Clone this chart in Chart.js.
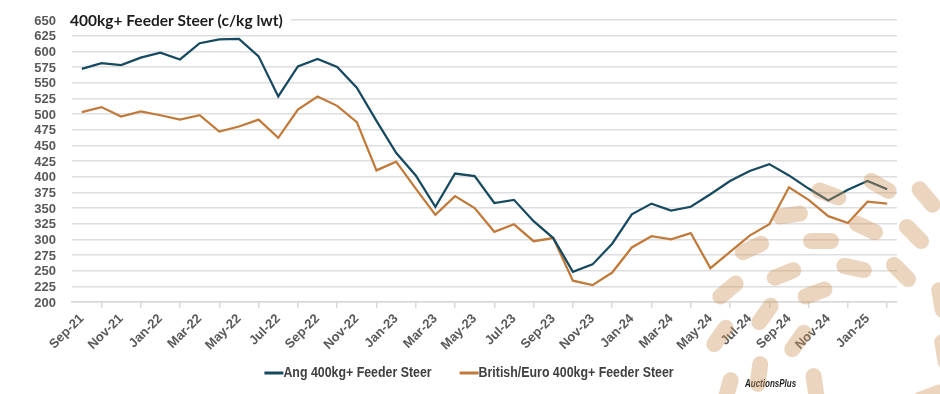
<!DOCTYPE html>
<html>
<head>
<meta charset="utf-8">
<title>400kg+ Feeder Steer</title>
<script src="https://cdn.jsdelivr.net/npm/chart.js@4.4.1/dist/chart.umd.min.js"></script>
<style>
    html, body { margin: 0; padding: 0; background: #fff; }
    #wrap { width: 940px; height: 394px; position: relative; }
</style>
</head>
<body>
<div id="wrap"><canvas id="chart"></canvas></div>
<script>
// Monthly categories, Sep-21 to Feb-25
const months = [
    'Sep-21', 'Oct-21', 'Nov-21', 'Dec-21', 'Jan-22', 'Feb-22', 'Mar-22', 'Apr-22',
    'May-22', 'Jun-22', 'Jul-22', 'Aug-22', 'Sep-22', 'Oct-22', 'Nov-22', 'Dec-22',
    'Jan-23', 'Feb-23', 'Mar-23', 'Apr-23', 'May-23', 'Jun-23', 'Jul-23', 'Aug-23',
    'Sep-23', 'Oct-23', 'Nov-23', 'Dec-23', 'Jan-24', 'Feb-24', 'Mar-24', 'Apr-24',
    'May-24', 'Jun-24', 'Jul-24', 'Aug-24', 'Sep-24', 'Oct-24', 'Nov-24', 'Dec-24',
    'Jan-25', 'Feb-25'
];

// c/kg lwt
const angusSteer = [
    572, 581, 578, 590, 598, 587, 613, 619, 620, 592, 528, 576, 588, 575, 542, 489,
    438, 402, 352, 405, 401, 358, 363, 329, 302, 248, 260, 293, 340, 357, 346, 352,
    372, 393, 409, 420, 402, 381, 362, 379, 393, 380
];
const britEuroSteer = [
    503, 511, 496, 504, 498, 491, 498, 472, 480, 491, 462, 507, 528, 513, 487, 410,
    424, 381, 339, 369, 350, 312, 324, 297, 302, 234, 227, 247, 287, 305, 300, 310,
    254, 280, 306, 324, 383, 363, 337, 326, 360, 357
];

const seriesNames = ['Ang 400kg+ Feeder Steer', 'British/Euro 400kg+ Feeder Steer'];
const seriesColors = ['#174a60', '#c17a3a'];

const yMin = 200;
const yMax = 650;
const yStep = 25;

const chartTitle = '400kg+ Feeder Steer (c/kg lwt)';

// decorative logo dashes in the lower right corner: [cx, cy, angle in degrees]
const watermarkDashes = [
    [880, 186, 30], [926, 197, 50], [829, 194, 20], [790, 215, -8],
    [866, 228, 25], [914, 234, 45], [752, 248, -25], [821, 241, 0],
    [901, 272, 45], [854, 268, 12], [784, 274, -22], [728, 290, -40],
    [815, 293, -20], [941, 300, 80], [765, 314, -55], [720, 336, -55],
    [798, 341, -55], [759, 374, 97], [728, 390, 105], [815, 386, 82],
    [944, 352, 80], [930, 396, -20]
];

const tickFont = "'Liberation Sans', Arial, sans-serif";

// y tick labels drawn by hand so they sit exactly right of the axis gap
const yLabelPlugin = {
    id: 'yLabels',
    afterDraw(chart) {
        const ctx = chart.ctx;
        const scale = chart.scales.y;
        ctx.save();
        ctx.font = 'bold 13px ' + tickFont;
        ctx.fillStyle = '#595959';
        ctx.textAlign = 'right';
        ctx.textBaseline = 'middle';
        scale.ticks.forEach(t => {
            ctx.fillText(String(t.value), chart.chartArea.left - 16, scale.getPixelForValue(t.value) + 1);
        });
        ctx.restore();
    }
};

const titlePlugin = {
    id: 'boxTitle',
    afterDraw(chart) {
        const ctx = chart.ctx;
        ctx.save();
        ctx.font = "bold 16px Lato, 'Liberation Sans', sans-serif";
        const w = ctx.measureText(chartTitle).width * 0.97;
        ctx.fillStyle = '#ffffff';
        ctx.fillRect(64, 8, w + 14, 24);
        ctx.fillStyle = '#1c1c1c';
        ctx.textBaseline = 'middle';
        ctx.translate(70, 21);
        ctx.scale(0.97, 1);
        ctx.fillText(chartTitle, 0, 0);
        ctx.restore();
    }
};

function condensedText(ctx, text, x, y, squeeze) {
    ctx.save();
    ctx.translate(x, y);
    ctx.scale(squeeze, 1);
    ctx.fillText(text, 0, 0);
    ctx.restore();
    return ctx.measureText(text).width * squeeze;
}

const legendPlugin = {
    id: 'lineLegend',
    afterDraw(chart) {
        const ctx = chart.ctx;
        const lineLen = 19;
        const gap = 28;
        const squeeze = 0.825;
        const y = 373;
        ctx.save();
        ctx.font = 'bold 15px ' + tickFont;
        ctx.textBaseline = 'middle';
        const widths = chart.data.datasets.map(ds => lineLen + ctx.measureText(ds.label).width * squeeze);
        const total = widths.reduce((a, b) => a + b, 0) + gap * (widths.length - 1);
        let x = 469 - total / 2;
        chart.data.datasets.forEach((ds, i) => {
            ctx.strokeStyle = ds.borderColor;
            ctx.lineWidth = 3;
            ctx.beginPath();
            ctx.moveTo(x, y);
            ctx.lineTo(x + lineLen, y);
            ctx.stroke();
            ctx.fillStyle = '#404040';
            condensedText(ctx, ds.label, x + lineLen, y, squeeze);
            x += widths[i] + gap;
        });

        ctx.font = 'italic bold 10px ' + tickFont;
        ctx.fillStyle = '#1a1a1a';
        condensedText(ctx, 'AuctionsPlus', 745, 384, 0.8);
        ctx.restore();
    }
};

const watermarkPlugin = {
    id: 'watermark',
    afterDraw(chart) {
        const ctx = chart.ctx;
        const half = 10;
        ctx.save();
        ctx.strokeStyle = 'rgba(205, 150, 95, 0.4)';
        ctx.lineWidth = 16;
        ctx.lineCap = 'round';
        watermarkDashes.forEach(d => {
            const a = d[2] * Math.PI / 180;
            const dx = Math.cos(a) * half;
            const dy = Math.sin(a) * half;
            ctx.beginPath();
            ctx.moveTo(d[0] - dx, d[1] - dy);
            ctx.lineTo(d[0] + dx, d[1] + dy);
            ctx.stroke();
        });
        ctx.restore();
    }
};

const ctx = document.getElementById('chart').getContext('2d');
new Chart(ctx, {
    type: 'line',
    data: {
        labels: months,
        datasets: [{
            label: seriesNames[0],
            data: angusSteer,
            borderColor: seriesColors[0],
            backgroundColor: seriesColors[0],
            borderWidth: 2.25,
            pointRadius: 0,
            tension: 0,
            fill: false
        }, {
            label: seriesNames[1],
            data: britEuroSteer,
            borderColor: seriesColors[1],
            backgroundColor: seriesColors[1],
            borderWidth: 2.25,
            pointRadius: 0,
            tension: 0,
            fill: false
        }]
    },
    options: {
        responsive: true,
        maintainAspectRatio: false,
        animation: false,
        layout: {
            padding: { left: 0, right: 43, top: 20, bottom: 0 }
        },
        plugins: {
            legend: { display: false },
            title: { display: false },
            tooltip: { enabled: false }
        },
        scales: {
            x: {
                offset: true,
                grid: {
                    offset: true,
                    drawOnChartArea: false,
                    drawTicks: true,
                    tickLength: 6,
                    color: '#d9d9d9',
                    lineWidth: 1.5
                },
                border: { display: true, color: '#d9d9d9', width: 1.5 },
                ticks: {
                    autoSkip: false,
                    maxRotation: 45,
                    minRotation: 45,
                    padding: 3,
                    color: '#595959',
                    font: { family: tickFont, size: 13, weight: 'bold' },
                    callback: function(value, index) {
                        return index % 2 === 0 ? months[index] : null;
                    }
                },
                afterFit(scale) { scale.height = 92; }
            },
            y: {
                min: yMin,
                max: yMax,
                grid: {
                    color: '#dedede',
                    lineWidth: 1.5,
                    drawTicks: false
                },
                border: { display: false },
                ticks: {
                    stepSize: yStep,
                    display: false
                },
                afterFit(scale) { scale.width = 72; }
            }
        }
    },
    plugins: [yLabelPlugin, titlePlugin, legendPlugin, watermarkPlugin]
});
</script>
</body>
</html>
